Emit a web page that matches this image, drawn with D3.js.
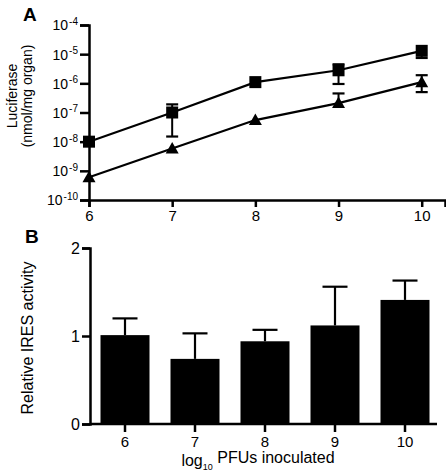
<!DOCTYPE html>
<html>
<head>
<meta charset="utf-8">
<script src="https://cdn.jsdelivr.net/npm/d3@7"></script>
<style>
  html, body { margin: 0; padding: 0; background: #fff; }
  svg { display: block; font-family: "Liberation Sans", Arial, Helvetica, sans-serif; }
</style>
</head>
<body>
<svg id="chart" width="446" height="475"></svg>
<script>
// ---------- Data ----------
const doses = [6, 7, 8, 9, 10];
const doseLabels = ["6", "7", "8", "9", "10"];

// Panel A: luciferase (nmol/mg organ), two series
const squareMean = [1e-8, 1e-7, 1.1e-6, 2.8e-6, 1.3e-5];
const squareHigh = [null, 1.9e-7, null, 4.5e-6, null];
const squareLow  = [null, 1.5e-8, null, 9.5e-7, 7.4e-6];

const triMean = [6e-10, 5.8e-9, 5.5e-8, 2.1e-7, 1.1e-6];
const triHigh = [null, null, null, 4.5e-7, 1.9e-6];
const triLow  = [null, null, null, null, 5e-7];

const logTicks = [1e-4, 1e-5, 1e-6, 1e-7, 1e-8, 1e-9, 1e-10];
const logTickExp = ["-4", "-5", "-6", "-7", "-8", "-9", "-10"];

// Panel B: relative IRES activity
const iresMean = [1.01, 0.74, 0.94, 1.12, 1.41];
const iresUpper = [1.20, 1.03, 1.07, 1.56, 1.63];
const iresTicks = [0, 1, 2];

// ---------- Drawing ----------
const svg = d3.select("#chart");
const axisW = 2.5;

// ===== Panel A =====
const xA = d3.scaleLinear().domain([6, 10.28]).range([89, 445]);
const yA = d3.scaleLog().domain([1e-10, 1e-4]).range([200, 25]);

const gA = svg.append("g");

const xAxisA = gA.append("g")
  .attr("transform", `translate(0,${yA(1e-10)})`)
  .call(d3.axisBottom(xA).tickValues(doses).tickFormat((d, i) => doseLabels[i]).tickSizeOuter(0).tickSize(7).tickPadding(3));
const yAxisA = gA.append("g")
  .attr("transform", `translate(${xA(6)},0)`)
  .call(d3.axisLeft(yA).tickValues(logTicks).tickFormat(() => "").tickSizeOuter(0).tickSize(9).tickPadding(2));

[xAxisA, yAxisA].forEach(ax => {
  ax.selectAll("path.domain").attr("stroke", "#000").attr("stroke-width", axisW);
  ax.selectAll(".tick line").attr("stroke", "#000").attr("stroke-width", axisW);
});
xAxisA.selectAll("text").attr("font-size", 15).attr("fill", "#000");

yAxisA.selectAll(".tick text").each(function(d, i) {
  const t = d3.select(this).attr("font-size", 14).attr("fill", "#000").attr("dy", "0.35em");
  t.text(null);
  t.append("tspan").text("10");
  t.append("tspan").attr("font-size", 10).attr("dx", 1).attr("dy", "-0.55em").text(logTickExp[i]);
});

const lineA = d3.line().x((d, i) => xA(doses[i])).y(d => yA(d));
gA.append("path").datum(squareMean).attr("d", lineA)
  .attr("fill", "none").attr("stroke", "#000").attr("stroke-width", 2.2);
gA.append("path").datum(triMean).attr("d", lineA)
  .attr("fill", "none").attr("stroke", "#000").attr("stroke-width", 2.2);

function errBars(mean, hi, lo) {
  const capW = 6;
  doses.forEach((dv, i) => {
    const x = xA(dv);
    [hi[i], lo[i]].forEach(v => {
      if (v == null) return;
      gA.append("line").attr("x1", x).attr("x2", x).attr("y1", yA(mean[i])).attr("y2", yA(v))
        .attr("stroke", "#000").attr("stroke-width", 2);
      gA.append("line").attr("x1", x - capW).attr("x2", x + capW).attr("y1", yA(v)).attr("y2", yA(v))
        .attr("stroke", "#000").attr("stroke-width", 2.2);
    });
  });
}
errBars(squareMean, squareHigh, squareLow);
errBars(triMean, triHigh, triLow);

gA.selectAll("rect.sq").data(squareMean).enter().append("rect")
  .attr("x", (d, i) => xA(doses[i]) - 6).attr("y", d => yA(d) - 6)
  .attr("width", 12).attr("height", 12).attr("fill", "#000");
gA.selectAll("path.tri").data(triMean).enter().append("path")
  .attr("d", (d, i) => {
    const x = xA(doses[i]), y = yA(d);
    return `M${x},${y - 6.5}L${x + 6.5},${y + 5}L${x - 6.5},${y + 5}Z`;
  })
  .attr("fill", "#000");

const tA = gA.append("text").attr("transform", "translate(17,96) rotate(-90)")
  .attr("text-anchor", "middle").attr("font-size", 14).attr("fill", "#000");
tA.append("tspan").attr("x", 0).attr("y", 0).text("Luciferase");
tA.append("tspan").attr("x", 0).attr("y", 15).text("(nmol/mg organ)");

svg.append("text").attr("x", 23).attr("y", 21).attr("font-size", 19).attr("font-weight", "bold")
  .attr("font-family", "Liberation Sans, Arial, sans-serif").text("A");

// ===== Panel B =====
const xB = d3.scaleBand().domain(doseLabels).range([90, 440]).paddingInner(0.3).paddingOuter(0.15);
const yB = d3.scaleLinear().domain([0, 2]).range([424, 248]);

const gB = svg.append("g");

gB.selectAll("rect.bar").data(iresMean).enter().append("rect")
  .attr("x", (d, i) => xB(doseLabels[i])).attr("width", xB.bandwidth())
  .attr("y", d => yB(d)).attr("height", d => yB(0) - yB(d)).attr("fill", "#000");

iresUpper.forEach((v, i) => {
  const cx = xB(doseLabels[i]) + xB.bandwidth() / 2;
  gB.append("line").attr("x1", cx).attr("x2", cx).attr("y1", yB(iresMean[i])).attr("y2", yB(v))
    .attr("stroke", "#000").attr("stroke-width", 2.2);
  gB.append("line").attr("x1", cx - 12.5).attr("x2", cx + 12.5).attr("y1", yB(v)).attr("y2", yB(v))
    .attr("stroke", "#000").attr("stroke-width", 2.2);
});

const xAxisB = gB.append("g").attr("transform", `translate(0,${yB(0)})`)
  .call(d3.axisBottom(xB).tickSizeOuter(0).tickSize(8).tickPadding(4));
xAxisB.select("path.domain").remove();
gB.append("line").attr("x1", 90).attr("x2", 437).attr("y1", yB(0)).attr("y2", yB(0))
  .attr("stroke", "#000").attr("stroke-width", axisW);

const yAxisB = gB.append("g").attr("transform", "translate(90,0)")
  .call(d3.axisLeft(yB).tickValues(iresTicks).tickFormat(d3.format("d")).tickSizeOuter(0).tickSize(8).tickPadding(2));

[xAxisB, yAxisB].forEach(ax => {
  ax.selectAll("path.domain").attr("stroke", "#000").attr("stroke-width", axisW);
  ax.selectAll(".tick line").attr("stroke", "#000").attr("stroke-width", axisW);
});
xAxisB.selectAll("text").attr("font-size", 15).attr("fill", "#000");
yAxisB.selectAll("text").attr("font-size", 16).attr("fill", "#000");

gB.append("text").attr("transform", "translate(33,338) rotate(-90)")
  .attr("text-anchor", "middle").attr("font-size", 16).attr("fill", "#000")
  .text("Relative IRES activity");

const xt = gB.append("text").attr("x", 258).attr("y", 466).attr("text-anchor", "middle")
  .attr("font-size", 16).attr("fill", "#000");
xt.append("tspan").text("log");
xt.append("tspan").attr("font-size", 9).attr("dy", "0.4em").text("10");
xt.append("tspan").attr("dy", "-0.4em").text(" PFUs inoculated");

svg.append("text").attr("x", 25).attr("y", 243).attr("font-size", 19).attr("font-weight", "bold")
  .attr("font-family", "Liberation Sans, Arial, sans-serif").text("B");
</script>
</body>
</html>
